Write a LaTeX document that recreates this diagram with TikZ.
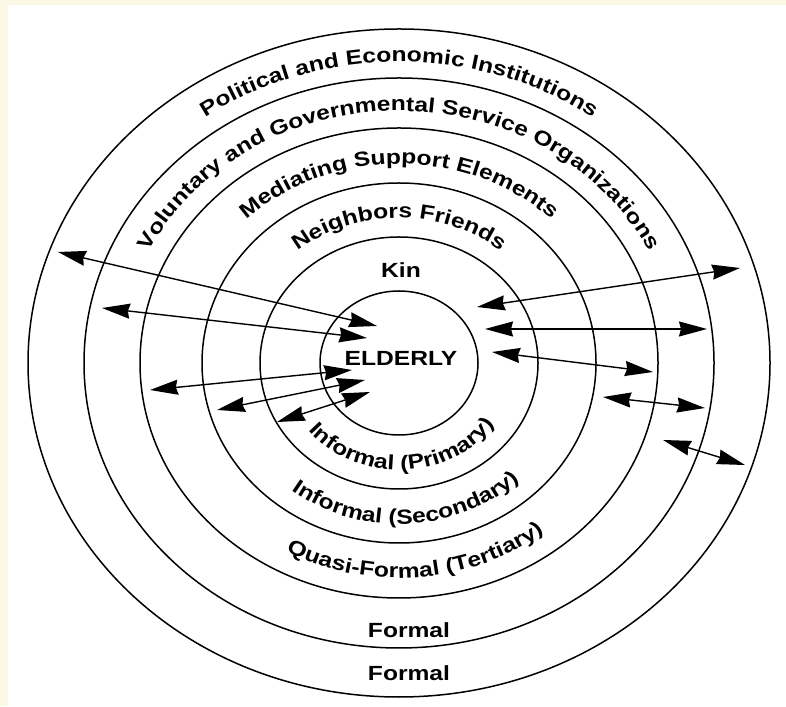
\documentclass[tikz,border=0pt]{standalone}
\usepackage{fontspec}
\setmainfont[FakeStretch=1.2]{Liberation Sans}
\usetikzlibrary{arrows.meta,decorations.text,calc}

\definecolor{cream}{RGB}{251,249,230}
\newcommand{\ringfont}{\bfseries\fontsize{20.5}{20.5}\selectfont}

\tikzset{
    ring/.style={line width=1.5pt},
    twoway/.style={line width=1.4pt,
        {Stealth[length=28pt,width=15pt,inset=2pt]}-{Stealth[length=28pt,width=15pt,inset=2pt]}},
    curved/.style={decorate, decoration={text along path, text align=center, text={|\ringfont|#1}}}
}

\begin{document}
\begin{tikzpicture}[x=1pt,y=1pt]
        \fill[cream] (0,0) rectangle (786,706);
        \fill[white] (8,0) rectangle (786,701);
        \useasboundingbox (0,0) rectangle (786,706);
        \coordinate (c) at (399,343);
        \draw[ring] (c) ellipse [x radius=79, y radius=72];
        \draw[ring] (c) ellipse [x radius=139, y radius=126];
        \draw[ring] (c) ellipse [x radius=197, y radius=180];
        \draw[ring] (c) ellipse [x radius=259, y radius=235];
        \draw[ring] (c) ellipse [x radius=315, y radius=285];
        \draw[ring] (c) ellipse [x radius=371, y radius=334];

        \path[curved={Political and Economic Institutions}]
            ($(c)+(165:335 and 301)$) arc[start angle=165, end angle=15, x radius=335, y radius=301];
        \path[curved={Voluntary and Governmental Service Organizations}]
            ($(c)+(175:279 and 252)$) arc[start angle=175, end angle=5, x radius=279, y radius=252];
        \path[curved={Mediating Support Elements}]
            ($(c)+(165:220 and 199)$) arc[start angle=165, end angle=15, x radius=220, y radius=199];
        \path[curved={Neighbors Friends}]
            ($(c)+(165:160 and 145)$) arc[start angle=165, end angle=15, x radius=160, y radius=145];
        \path[curved={Informal (Primary)}]
            ($(c)+(190:117 and 107)$) arc[start angle=190, end angle=354, x radius=117, y radius=107];
        \path[curved={Informal (Secondary)}]
            ($(c)+(195:176 and 161)$) arc[start angle=195, end angle=351, x radius=176, y radius=161];
        \path[curved={Quasi-Formal (Tertiary)}]
            ($(c)+(200:236 and 215)$) arc[start angle=200, end angle=350, x radius=236, y radius=215];

        \node[font=\ringfont] (kin) at (401,436) {Kin};
        \node[font=\ringfont] (elderly) at (401,348) {ELDERLY};
        \node[font=\ringfont] (formal) at (409,76) {Formal};
        \node[font=\ringfont] (formaltoo) at (409,33) {Formal};

        \coordinate (a1) at (58,454);   \coordinate (a2) at (377,380);
        \coordinate (b1) at (102,398);  \coordinate (b2) at (367,368);
        \coordinate (d1) at (150,316);  \coordinate (d2) at (352,336);
        \coordinate (e1) at (217,296);  \coordinate (e2) at (365,326);
        \coordinate (f1) at (277,284);  \coordinate (f2) at (370,314);
        \coordinate (g1) at (477,399);  \coordinate (g2) at (740,438);
        \coordinate (h1) at (485,377);  \coordinate (h2) at (707,377);
        \coordinate (i1) at (492,354);  \coordinate (i2) at (653,334);
        \coordinate (j1) at (603,309);  \coordinate (j2) at (705,298);
        \coordinate (k1) at (663,266);  \coordinate (k2) at (745,241);
        \draw[twoway] (a1) -- (a2);
        \draw[twoway] (b1) -- (b2);
        \draw[twoway] (d1) -- (d2);
        \draw[twoway] (e1) -- (e2);
        \draw[twoway] (f1) -- (f2);
        \draw[twoway] (g1) -- (g2);
        \draw[twoway] (h1) -- (h2);
        \draw[twoway] (i1) -- (i2);
        \draw[twoway] (j1) -- (j2);
        \draw[twoway] (k1) -- (k2);
\end{tikzpicture}
\end{document}
